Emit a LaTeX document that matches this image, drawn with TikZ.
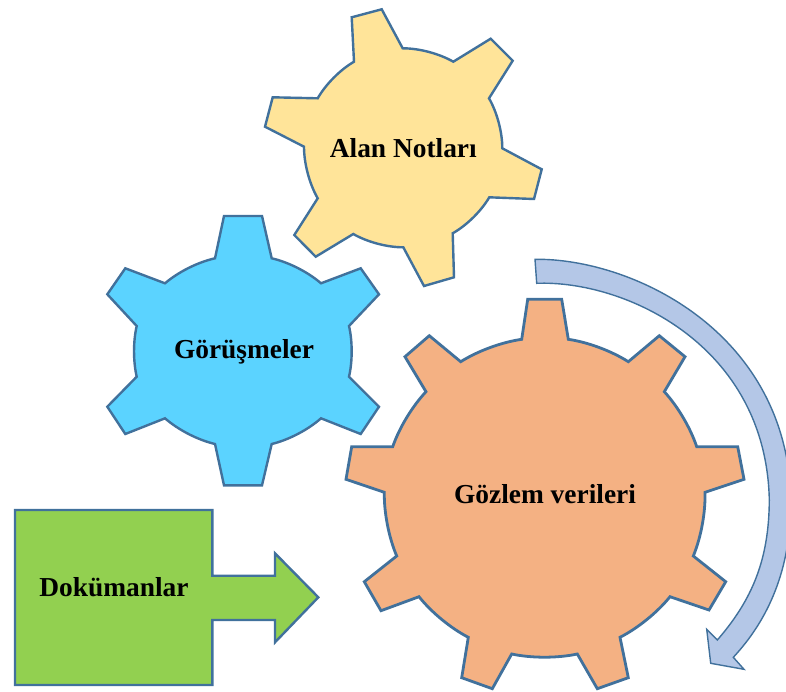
\documentclass[tikz,border=0pt]{standalone}
\usepackage{fontspec}
\setmainfont{Liberation Serif}
\usepackage{xcolor}
\usetikzlibrary{positioning}

\definecolor{gearyellow}{HTML}{FFE499}
\definecolor{gearblue}{HTML}{5BD3FF}
\definecolor{gearorange}{HTML}{F4B183}
\definecolor{boxgreen}{HTML}{92D050}
\definecolor{sweepblue}{HTML}{B4C7E7}
\definecolor{edgeblue}{HTML}{41719C}

\begin{document}
\begin{tikzpicture}[x=1pt, y=-1pt,
    gearshape/.style={draw=edgeblue, line width=2.4pt, line join=miter},
    rim/.style={bend left=#1, looseness=0.8},
    gearlabel/.style={font=\fontsize{27.4}{30}\selectfont\bfseries, text=black, inner sep=0pt}]
    \useasboundingbox (0,0) rectangle (786,691);

    % Alan Notlari
    \draw [gearshape, fill=gearyellow] (351.7,17.3) -- (381.7,9.3) -- (402.7,48.3)
        to[rim=15] (453.3,61.7) -- (490.7,38.7) -- (512.7,60.7) -- (489,98.3)
        to[rim=15] (502.3,148.3) -- (541.7,169.3) -- (534,199) -- (489.3,197.3)
        to[rim=15] (452.7,233.3) -- (454,277.3) -- (424,286) -- (403.3,247.3)
        to[rim=15] (353.3,234) -- (315.7,256.7) -- (294.3,235) -- (317.7,198.3)
        to[rim=15] (304,146.7) -- (265,126.7) -- (272.7,97.3) -- (317.7,98.3)
        to[rim=15] (354,61.7) -- cycle;

    % Gorusmeler
    \draw [gearshape, fill=gearblue] (224,216) -- (262,216) -- (271.7,258.3)
        to[rim=14] (321,283.3) -- (360.7,268.3) -- (379,294.3) -- (349,326)
        to[rim=13] (349,376.7) -- (379,406.7) -- (360.7,434) -- (321,418.3)
        to[rim=14] (271.7,444) -- (262,485.3) -- (224,485.3) -- (215,444)
        to[rim=14] (165,418.3) -- (125.3,434) -- (107.3,406.7) -- (136.7,376.7)
        to[rim=13] (136.7,326) -- (107.3,294.3) -- (125.3,268.3) -- (165,283.3)
        to[rim=14] (215,258.3) -- cycle;

    % Gozlem verileri
    \draw [gearshape, line width=2.8pt, fill=gearorange] (527.7,299.3) -- (561.7,299.3) -- (568.3,339.3)
        to[rim=12] (628.3,361.7) -- (659.3,335.7) -- (685,356.7) -- (664.3,391.7)
        to[rim=12] (696.7,446.7) -- (737.7,446.7) -- (744,479.3) -- (705,492.3)
        to[rim=12] (693.3,556) -- (725.7,581.7) -- (709,610) -- (670,596.7)
        to[rim=12] (620,637.3) -- (628.3,677.7) -- (597.3,688.7) -- (577.3,654)
        to[rim=12] (511.7,654) -- (492.3,688.7) -- (461.7,677.7) -- (468.3,637.3)
        to[rim=12] (419,596.7) -- (381,610.7) -- (364.3,581.7) -- (396.7,556)
        to[rim=12] (384.3,492.3) -- (346,479.3) -- (351.7,446.7) -- (392.7,446.7)
        to[rim=12] (426,391.7) -- (405,356.7) -- (429.3,335.7) -- (460.7,361.7)
        to[rim=12] (521.7,339.3) -- cycle;

    % sweep arrow, cut off by the right edge
    \begin{scope}
        \clip (0,0) rectangle (786,691);
        \draw [draw=edgeblue, line width=1.4pt, fill=sweepblue] (535,259.3)
            .. controls (630,258) and (787,330) .. (791,500)
            .. controls (791,570) and (768,620) .. (733.3,657.3)
            -- (744,669.3) -- (710.7,663.3) -- (706.7,629.3) -- (717.3,640)
            .. controls (752,600) and (769,560) .. (769.3,500)
            .. controls (766,345) and (625,280) .. (536.7,283.3) -- cycle;
    \end{scope}

    % Dokumanlar
    \draw [gearshape, fill=boxgreen] (15,510) -- (212.3,510) -- (212.3,575.7) -- (275,575.7)
        -- (275,553.3) -- (318.3,597.3) -- (275,642.3) -- (275,620) -- (212.3,620)
        -- (212.3,685) -- (15,685) -- cycle;

    \node (notes) [gearlabel] at (403.3,148.3) {Alan Notları};
    \node (interviews) [gearlabel] at (244,352.3) {Görüşmeler};
    \node (observation) [gearlabel] at (545,494.3) {Gözlem verileri};
    \node (documents) [gearlabel] at (114,586.7) {Dokümanlar};
\end{tikzpicture}
\end{document}
